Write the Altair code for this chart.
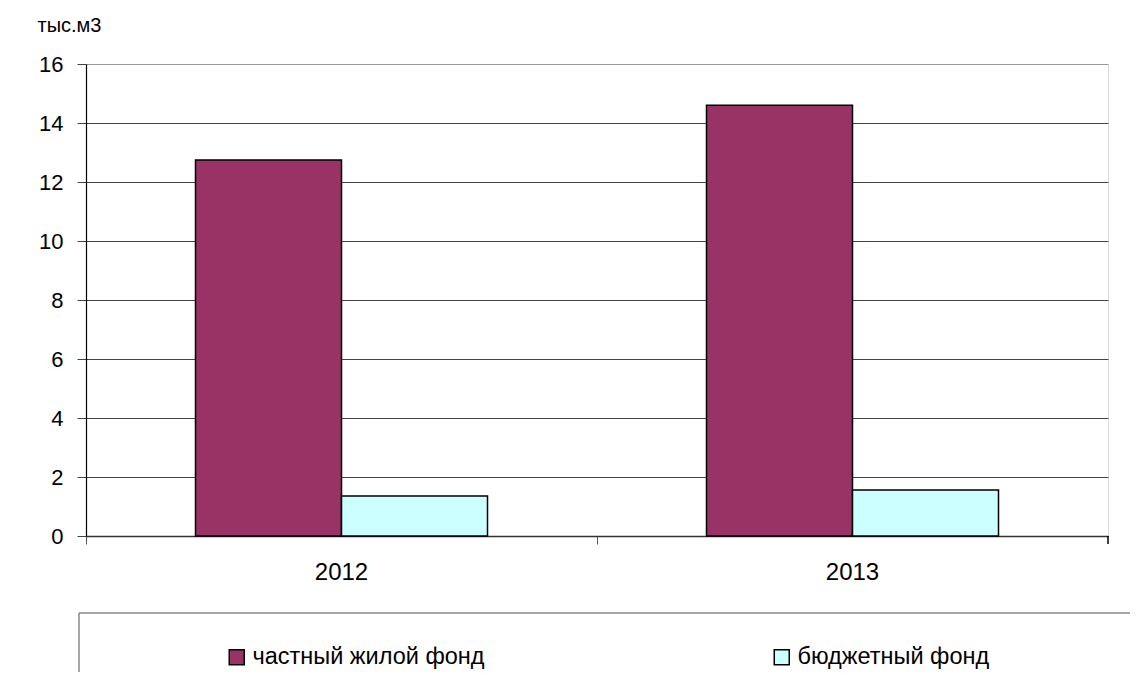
import altair as alt
import pandas as pd

years = ["2012", "2013"]
series = ["частный жилой фонд", "бюджетный фонд"]
private_vals = [12.75, 14.6]
budget_vals = [1.36, 1.56]
y_ticks = [0, 2, 4, 6, 8, 10, 12, 14, 16]
colors = ["#993366", "#CCFFFF"]

rows = []
for i, yr in enumerate(years):
    rows.append({"year": yr, "series": series[0], "value": private_vals[i]})
    rows.append({"year": yr, "series": series[1], "value": budget_vals[i]})
df = pd.DataFrame(rows)

FONT = "Liberation Sans"
W, H = 1022, 472

bars = alt.Chart(df).mark_bar(stroke="black", strokeWidth=1.5).encode(
    x=alt.X("year:N", sort=years, title=None,
            scale=alt.Scale(paddingInner=0, paddingOuter=0),
            axis=alt.Axis(labelAngle=0, bandPosition=0, tickSize=8, tickColor="#555555",
                          domainColor="#333333", domainWidth=1.5, labelPadding=16,
                          labelFontSize=24, labelFont=FONT, labelColor="black")),
    xOffset=alt.XOffset("series:N", sort=series,
                        scale=alt.Scale(paddingOuter=0.75, paddingInner=0)),
    y=alt.Y("value:Q", title="тыс.м3",
            scale=alt.Scale(domain=[0, 16], nice=False),
            axis=alt.Axis(values=y_ticks, grid=True,
                          gridColor={"condition": {"test": "datum.value === 16", "value": "#999999"},
                                     "value": "#444444"},
                          gridWidth=1.2, tickSize=9, tickColor="#444444",
                          domainColor="black", domainWidth=1.2, labelPadding=14,
                          labelFontSize=22, labelFont=FONT, labelColor="black",
                          titleAngle=0, titleX=-49, titleY=-33, titleAlign="left",
                          titleBaseline="alphabetic", titleFontSize=20, titleFont=FONT,
                          titleFontWeight="normal", titleColor="black")),
    color=alt.Color("series:N", sort=series,
                    scale=alt.Scale(domain=series, range=colors),
                    legend=alt.Legend(title=None, orient="none", legendX=139, legendY=581,
                                      direction="horizontal", symbolType="square",
                                      symbolSize=225, symbolStrokeColor="black",
                                      symbolStrokeWidth=1.5, symbolOpacity=1,
                                      labelFontSize=23.5, labelFont=FONT, labelColor="black",
                                      labelLimit=0, labelOffset=4, columnPadding=285)),
)

one = alt.Data(values=[{"k": 1}])

end_tick = alt.Chart(one).mark_rule(color="black", strokeWidth=1.5).encode(
    x=alt.value(W), y=alt.value(H), y2=alt.value(H + 8)
)
legend_top = alt.Chart(one).mark_rule(color="#888888", strokeWidth=1.5).encode(
    x=alt.value(-7), x2=alt.value(W + 40), y=alt.value(549)
)
legend_left = alt.Chart(one).mark_rule(color="#888888", strokeWidth=1.5).encode(
    x=alt.value(-7), y=alt.value(549), y2=alt.value(H + 140)
)

chart = alt.layer(bars, end_tick, legend_top, legend_left).properties(
    width=W, height=H,
    autosize=alt.AutoSizeParams(type="none"),
    padding={"left": 78, "top": 56, "right": 22, "bottom": 136},
).configure_view(stroke="#999999", strokeWidth=2).configure(background="white")

chart.save("out.html", embed_options={"renderer": "svg", "actions": False})
